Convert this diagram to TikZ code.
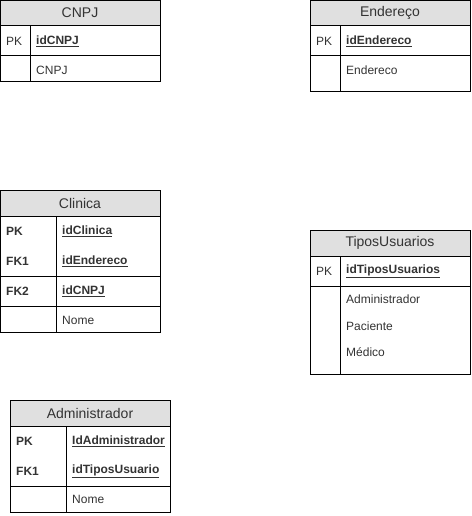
\documentclass[tikz,border=0pt]{standalone}
\usepackage{fontspec}
\setmainfont{Liberation Sans}
\definecolor{hdrgray}{HTML}{E0E0E0}
\definecolor{txtgray}{HTML}{333333}
\tikzset{
  tabhead/.style={font=\fontsize{14}{16}\selectfont, text=txtgray},
  field/.style={anchor=west, inner sep=0pt, text=txtgray, font=\fontsize{12}{14}\selectfont},
  keyfield/.style={field, font=\fontsize{12}{14}\selectfont\bfseries},
  tabline/.style={draw=black, line width=1pt},
}
\begin{document}
\begin{tikzpicture}[x=1pt, y=-1pt]
    \useasboundingbox (0,0) rectangle (471,516);

    % tabela CNPJ
    \filldraw[tabline, fill=hdrgray] (0.5,0.5) rectangle (160,26);
    \draw[tabline] (0.5,26) rectangle (160,82);
    \draw[tabline] (0.5,56) -- (160,56);
    \draw[tabline] (30,26) -- (30,82);
    \node[tabhead] (cnpjHead) at (80,13) {CNPJ};
    \node[field] (cnpjPK) at (6,41) {PK};
    \node[keyfield] (cnpjId) at (36,41) {\underline{idCNPJ}};
    \node[field] (cnpjCol) at (36,70) {CNPJ};

    % tabela Endereço
    \filldraw[tabline, fill=hdrgray] (310,0.5) rectangle (470,26);
    \draw[tabline] (310,26) rectangle (470,92);
    \draw[tabline] (310,56) -- (470,56);
    \draw[tabline] (340,26) -- (340,92);
    \node[tabhead] (endHead) at (390,13) {Endereço};
    \node[field] (endPK) at (316,41) {PK};
    \node[keyfield] (endId) at (346,41) {\underline{idEndereco}};
    \node[field] (endCol) at (346,70) {Endereco};

    % tabela Clinica
    \filldraw[tabline, fill=hdrgray] (0.5,190) rectangle (160,216);
    \draw[tabline] (0.5,216) rectangle (160,332);
    \draw[tabline] (0.5,276) -- (160,276);
    \draw[tabline] (0.5,306) -- (160,306);
    \draw[tabline] (56,216) -- (56,332);
    \node[tabhead] (cliHead) at (80,203) {Clinica};
    \node[keyfield] (cliPK) at (6,231) {PK};
    \node[keyfield] (cliId) at (62,231) {\underline{idClinica}};
    \node[keyfield] (cliFK1) at (6,261) {FK1};
    \node[keyfield] (cliEnd) at (62,261) {\underline{idEndereco}};
    \node[keyfield] (cliFK2) at (6,291) {FK2};
    \node[keyfield] (cliCnpj) at (62,291) {\underline{idCNPJ}};
    \node[field] (cliNome) at (62,320) {Nome};

    % tabela TiposUsuarios
    \filldraw[tabline, fill=hdrgray] (310,230) rectangle (470,256);
    \draw[tabline] (310,256) rectangle (470,374);
    \draw[tabline] (310,286) -- (470,286);
    \draw[tabline] (340,256) -- (340,374);
    \node[tabhead] (tipHead) at (390,243) {TiposUsuarios};
    \node[field] (tipPK) at (316,271) {PK};
    \node[keyfield] (tipId) at (346,271) {\underline{idTiposUsuarios}};
    \node[field] (tipAdm) at (346,299) {Administrador};
    \node[field] (tipPac) at (346,326) {Paciente};
    \node[field] (tipMed) at (346,352) {Médico};

    % tabela Administrador
    \filldraw[tabline, fill=hdrgray] (10,400) rectangle (170,426);
    \draw[tabline] (10,426) rectangle (170,512);
    \draw[tabline] (10,486) -- (170,486);
    \draw[tabline] (66,426) -- (66,512);
    \node[tabhead] (admHead) at (90,413) {Administrador};
    \node[keyfield] (admPK) at (16,441) {PK};
    \node[keyfield] (admId) at (72,441) {\underline{IdAdministrador}};
    \node[keyfield] (admFK1) at (16,471) {FK1};
    \node[keyfield] (admTipo) at (72,471) {\underline{idTiposUsuario}};
    \node[field] (admNome) at (72,499) {Nome};
\end{tikzpicture}
\end{document}
